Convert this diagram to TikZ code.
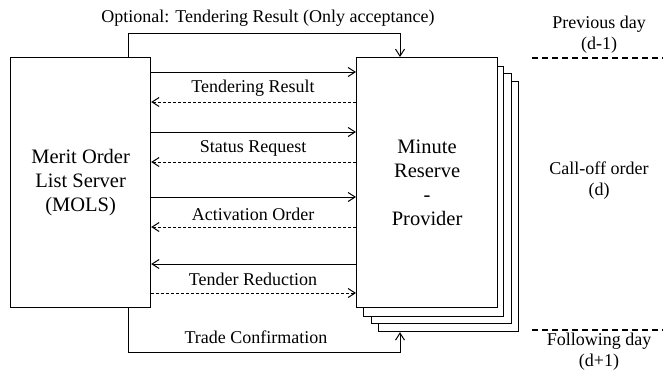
\documentclass[tikz,border=0pt]{standalone}
\usepackage{fontspec}
\setmainfont{Liberation Serif}
\usetikzlibrary{arrows.meta}
\tikzset{
  box/.style={draw, line width=0.6pt, fill=white, inner sep=0pt, anchor=north west},
  msg/.style={line width=0.5pt, -{Straight Barb[length=3.5pt,width=4.5pt]}},
  reply/.style={msg, dash pattern=on 1.5pt off 1pt},
  lbl/.style={font=\fontsize{9}{10.5}\selectfont, inner sep=0pt},
  big/.style={font=\fontsize{10.25}{12}\selectfont, align=center, inner sep=0pt},
  day/.style={font=\fontsize{9}{10.5}\selectfont, align=center, inner sep=0pt},
  daysep/.style={line width=0.6pt, dash pattern=on 3pt off 2pt}
}
\begin{document}
\begin{tikzpicture}[x=0.5pt, y=-0.5pt]
\useasboundingbox (0,0) rectangle (663,371);

% stacked provider boxes, back to front
\node[box, minimum width=70pt, minimum height=125pt] (p3) at (378,81) {};
\node[box, minimum width=70pt, minimum height=125pt] (p2) at (371,73) {};
\node[box, minimum width=70pt, minimum height=125pt] (p1) at (363,66) {};
\node[box, minimum width=70.5pt, minimum height=125pt] (prov) at (356,57) {};
\node[big] at (prov.center) {Minute\\Reserve\\-\\Provider};

% merit order list server
\node[box, minimum width=70pt, minimum height=125pt] (mols) at (10,57) {};
\node[big] at (mols.center) {Merit Order\\List Server\\(MOLS)};

% exchanges between the two parties
\draw[msg]   (mols.east |- 0,72)  -- (prov.west |- 0,72);
\draw[reply] (prov.west |- 0,102) -- (mols.east |- 0,102);
\node[lbl] at (253,88) {Tendering Result};

\draw[msg]   (mols.east |- 0,132) -- (prov.west |- 0,132);
\draw[reply] (prov.west |- 0,162) -- (mols.east |- 0,162);
\node[lbl] at (253,148) {Status Request};

\draw[msg]   (mols.east |- 0,197) -- (prov.west |- 0,197);
\draw[reply] (prov.west |- 0,227) -- (mols.east |- 0,227);
\node[lbl] at (253,214) {Activation Order};

\draw[msg]   (prov.west |- 0,264) -- (mols.east |- 0,264);
\draw[reply] (mols.east |- 0,293) -- (prov.west |- 0,293);
\node[lbl] at (253,279) {Tender Reduction};

% optional result on the previous day
\coordinate (tl) at (128,33);
\coordinate (tr) at (400,33);
\draw[msg] (mols.north -| tl) -- (tl) -- (tr) -- (prov.north -| tr);
\node[lbl] at (268,18) {Optional: Tendering Result (Only acceptance)};

% confirmation on the following day
\coordinate (bl) at (128,352);
\coordinate (br) at (400,352);
\draw[msg] (mols.south -| bl) -- (bl) -- (br) -- (p3.south -| br);
\node[lbl] at (256,337) {Trade Confirmation};

% day phases
\coordinate (d1a) at (532,58);
\coordinate (d1b) at (663,58);
\coordinate (d2a) at (532,330);
\coordinate (d2b) at (663,330);
\draw[daysep] (d1a) -- (d1b);
\draw[daysep] (d2a) -- (d2b);
\node[day] at (599,35) {Previous day\\(d-1)};
\node[day] at (599,181) {Call-off order\\(d)};
\node[day] at (599,352) {Following day\\(d+1)};
\end{tikzpicture}
\end{document}
